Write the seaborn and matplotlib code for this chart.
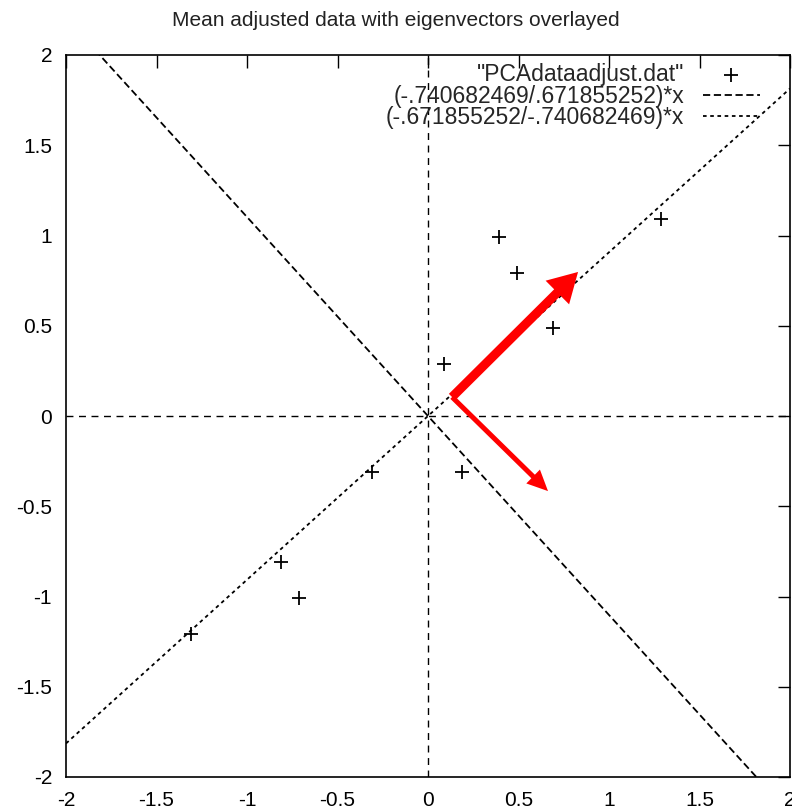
import numpy as np
import pandas as pd
import matplotlib
matplotlib.use("Agg")
import matplotlib.pyplot as plt
import seaborn as sns

# Data (mean adjusted)
x_vals = [0.69, -1.31, 0.39, 0.09, 1.29, 0.49, 0.19, -0.81, -0.31, -0.71]
y_vals = [0.49, -1.21, 0.99, 0.29, 1.09, 0.79, -0.31, -0.81, -0.31, -1.01]

label_pts = '"PCAdataadjust.dat"'
label_l1 = '(-.740682469/.671855252)*x'
label_l2 = '(-.671855252/-.740682469)*x'
slope1 = -.740682469 / .671855252
slope2 = -.671855252 / -.740682469

arrow_start = (0.133, 0.105)
arrow_big_end = (0.829, 0.798)
arrow_small_end = (0.663, -0.416)

tick_vals = [-2, -1.5, -1, -0.5, 0, 0.5, 1, 1.5, 2]
tick_labels = ["-2", "-1.5", "-1", "-0.5", "0", "0.5", "1", "1.5", "2"]

sns.set_theme(style="white")
plt.rcParams['font.family'] = ['Liberation Sans', 'DejaVu Sans']

fig = plt.figure(figsize=(7.92, 8.10), dpi=100)
ax = fig.add_axes([66/792, 33/810, 724/792, 722/810])

xs = np.linspace(-2, 2, 401)
df_pts = pd.DataFrame({"x": x_vals, "y": y_vals})
df_l1 = pd.DataFrame({"x": xs, "y": slope1 * xs})
df_l2 = pd.DataFrame({"x": xs, "y": slope2 * xs})

# zero axes
ax.axhline(0, color="black", lw=1.0, ls=(0, (5, 4)), zorder=1)
ax.axvline(0, color="black", lw=1.0, ls=(0, (5, 4)), zorder=1)

sns.scatterplot(data=df_pts, x="x", y="y", marker="+", s=110, color="black",
                linewidth=1.3, ax=ax, label=label_pts, zorder=3)
sns.lineplot(data=df_l1, x="x", y="y", color="black", lw=1.3,
             ls=(0, (4, 2)), ax=ax, label=label_l1, zorder=2)
sns.lineplot(data=df_l2, x="x", y="y", color="black", lw=1.3,
             ls=(0, (2, 2)), ax=ax, label=label_l2, zorder=2)

ax.annotate("", xy=arrow_big_end, xytext=arrow_start,
            arrowprops=dict(width=6.5, headwidth=24, headlength=21, shrink=0,
                            facecolor="#ff0000", edgecolor="none"),
            zorder=5)
ax.annotate("", xy=arrow_small_end, xytext=arrow_start,
            arrowprops=dict(width=3.6, headwidth=14, headlength=15, shrink=0,
                            facecolor="#ff0000", edgecolor="none"),
            zorder=5)

ax.set_xlim(-2, 2)
ax.set_ylim(-2, 2)
ax.set_xticks(tick_vals)
ax.set_yticks(tick_vals)
ax.set_xticklabels(tick_labels)
ax.set_yticklabels(tick_labels)
ax.set_xlabel("")
ax.set_ylabel("")
ax.tick_params(direction="in", length=9, width=1, top=True, right=True,
               labelsize=15, colors="black", pad=10)
for sp in ax.spines.values():
    sp.set_color("black")
    sp.set_linewidth(1.2)

ax.set_title("Mean adjusted data with eigenvectors overlayed", fontsize=15,
             pad=21, color="#222222", x=0.456)

leg = ax.legend(loc="upper right", bbox_to_anchor=(0.9586, 0.989),
                frameon=False, markerfirst=False,
                fontsize=16.5, handlelength=2.5, borderaxespad=0,
                borderpad=0, labelspacing=-0.06, handletextpad=0.8)

fig.savefig("out.png", dpi=100)
